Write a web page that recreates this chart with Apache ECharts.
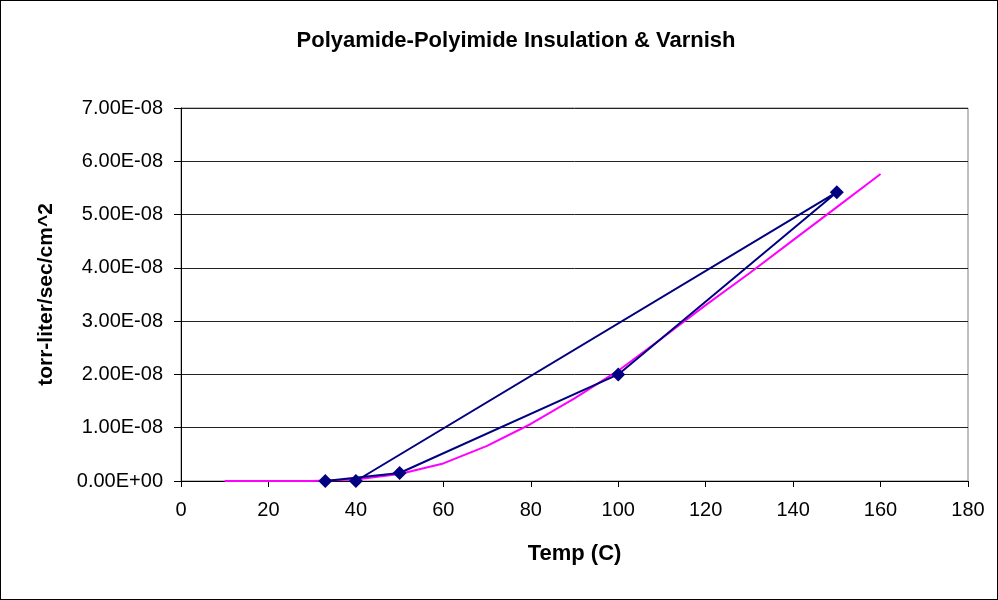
<!DOCTYPE html>
<html>
<head>
<meta charset="utf-8">
<script src="https://cdn.jsdelivr.net/npm/echarts@6/dist/echarts.min.js"></script>
<style>
  html, body { margin: 0; padding: 0; background: #fff; }
  #chart { width: 998px; height: 600px; box-sizing: border-box; border: 1px solid #000; }
</style>
</head>
<body>
<div id="chart"></div>
<script>
// measured points (temp, rate)
const measTemp = [33, 50, 100, 150, 40];
const measRate = [0, 1.5e-9, 2.0e-8, 5.42e-8, 0];

// fitted curve
const fitTemp = [10, 20, 30, 40, 50, 60, 70, 80, 90, 100, 110, 120, 130, 140, 150, 160];
const fitRate = [0, 0, 0, 3e-10, 1.3e-9, 3.3e-9, 6.6e-9, 1.07e-8, 1.55e-8, 2.07e-8,
  2.68e-8, 3.3e-8, 3.9e-8, 4.52e-8, 5.14e-8, 5.76e-8];

const xTicks = [0, 20, 40, 60, 80, 100, 120, 140, 160, 180];
const yTicks = [0, 1e-8, 2e-8, 3e-8, 4e-8, 5e-8, 6e-8, 7e-8];

function sci(v) {
  if (Math.abs(v) < 1e-20) return "0.00E+00";
  const s = v.toExponential(2).split("e");
  const ex = parseInt(s[1], 10);
  const sign = ex < 0 ? "-" : "+";
  const abs = Math.abs(ex);
  return s[0] + "E" + sign + (abs < 10 ? "0" + abs : abs);
}

const chart = echarts.init(document.getElementById("chart"));
const font = "Liberation Sans, Arial, sans-serif";

chart.setOption({
  animation: false,
  title: {
    text: "Polyamide-Polyimide Insulation & Varnish",
    left: 510,
    top: 24,
    textAlign: "center",
    textStyle: { fontFamily: font, fontSize: 22, fontWeight: "bold", color: "#000" }
  },
  grid: { left: 180, right: 29, top: 107, bottom: 118, show: true, borderColor: "#808080", borderWidth: 1 },
  xAxis: {
    type: "value",
    min: xTicks[0],
    max: xTicks[xTicks.length - 1],
    interval: 20,
    name: "Temp (C)",
    nameLocation: "middle",
    nameGap: 62,
    nameTextStyle: { fontFamily: font, fontSize: 22, fontWeight: "bold", color: "#000" },
    axisLine: { lineStyle: { color: "#000", width: 1 } },
    axisTick: { show: true, length: 6, lineStyle: { color: "#000" } },
    axisLabel: { fontFamily: font, fontSize: 20, color: "#000", margin: 19 },
    splitLine: { show: false }
  },
  yAxis: {
    type: "value",
    min: yTicks[0],
    max: yTicks[yTicks.length - 1],
    interval: 1e-8,
    name: "torr-liter/sec/cm^2",
    nameLocation: "middle",
    nameGap: 124,
    nameTextStyle: { fontFamily: font, fontSize: 21, fontWeight: "bold", color: "#000" },
    axisLine: { show: true, lineStyle: { color: "#000", width: 1 } },
    axisTick: { show: true, length: 7, lineStyle: { color: "#000" } },
    axisLabel: { fontFamily: font, fontSize: 20, color: "#000", margin: 18, formatter: sci },
    splitLine: { show: true, lineStyle: { color: "#222", width: 1 } }
  },
  series: [
    {
      type: "line",
      data: fitTemp.map((t, i) => [t, fitRate[i]]),
      showSymbol: false,
      lineStyle: { color: "#ff00ff", width: 2 },
      itemStyle: { color: "#ff00ff" },
      z: 2
    },
    {
      type: "line",
      data: measTemp.map((t, i) => [t, measRate[i]]),
      symbol: "diamond",
      symbolSize: 14,
      lineStyle: { color: "#000080", width: 2 },
      itemStyle: { color: "#000080" },
      z: 3
    }
  ]
});
</script>
</body>
</html>
